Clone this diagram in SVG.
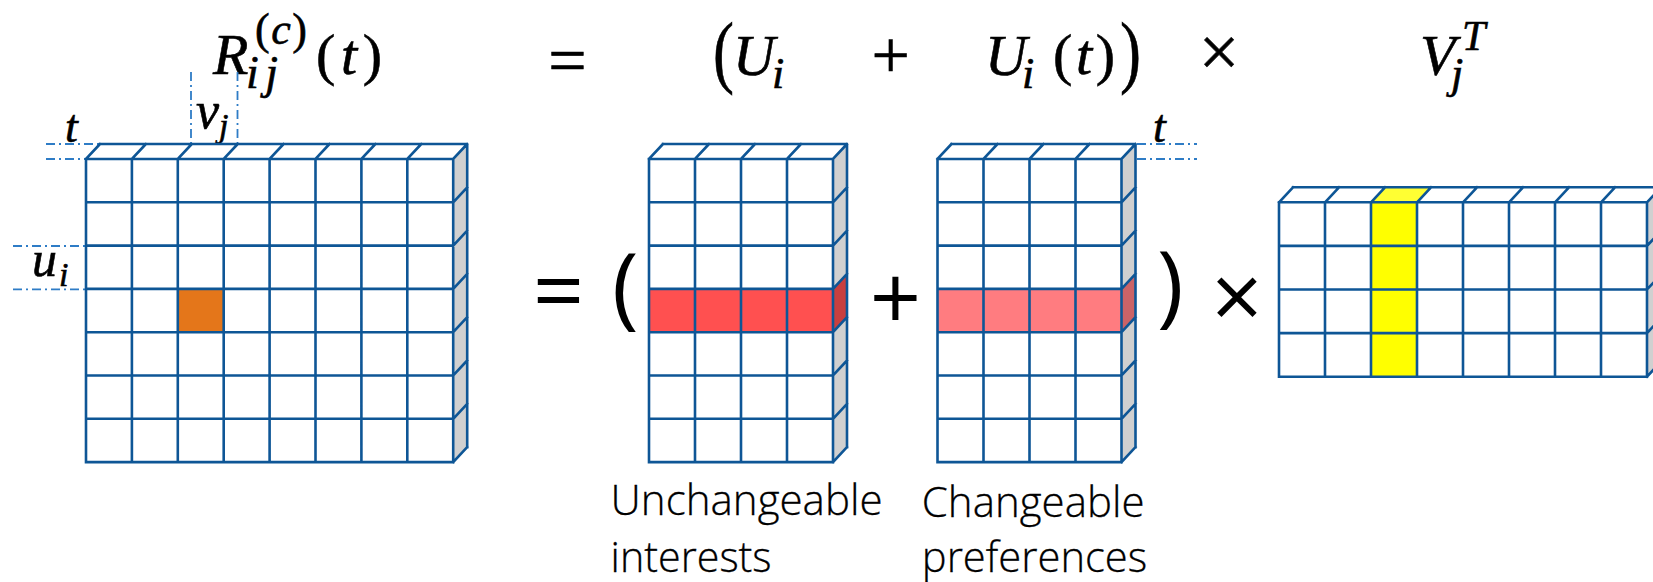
<svg xmlns="http://www.w3.org/2000/svg" width="1653" height="582" viewBox="0 0 1653 582">
<style>
.g{fill:none;stroke:#0E5696;stroke-width:2.6;stroke-linejoin:round;stroke-linecap:square}
.w{fill:#fff}
.side{fill:#d0d0d0}
.m{font-family:"Liberation Serif","DejaVu Serif",serif;fill:#000;stroke:#000;stroke-width:0.6}
.i{font-style:italic}
.op{font-family:"Open Sans","Liberation Sans",sans-serif;font-size:90px;fill:#000}
.lb{font-family:"Open Sans","Liberation Sans",sans-serif;font-size:42px;font-weight:300;fill:#000;stroke:#000;stroke-width:0.3}
.d{fill:none;stroke:#2E7CC6;stroke-width:1.8;stroke-dasharray:9 4 2 4}
</style>
<rect width="1653" height="582" fill="#fff"/>

<g id="formula">
  <text class="m"><tspan class="i" x="213" y="74" font-size="58">R</tspan><tspan class="i" x="246" y="88" font-size="46" textLength="32">ij</tspan><tspan x="255" y="44" font-size="44" textLength="52">(<tspan class="i">c</tspan>)</tspan><tspan x="316" y="74" font-size="58" textLength="66">(<tspan class="i">t</tspan>)</tspan></text>
  <text class="m" x="567.5" y="83" font-size="68" text-anchor="middle">=</text>
  <text class="m"><tspan x="713" y="78" font-size="80" textLength="21" lengthAdjust="spacingAndGlyphs">(</tspan><tspan class="i" x="733" y="75" font-size="58">U</tspan><tspan class="i" x="772" y="88" font-size="44">i</tspan></text>
  <text class="m" x="890.8" y="78" font-size="68" text-anchor="middle">+</text>
  <text class="m"><tspan class="i" x="985" y="75" font-size="58">U</tspan><tspan class="i" x="1022" y="88" font-size="44">i</tspan><tspan x="1053" y="74" font-size="58" textLength="62">(<tspan class="i">t</tspan>)</tspan><tspan x="1120" y="78" font-size="80" textLength="21" lengthAdjust="spacingAndGlyphs">)</tspan></text>
  <text class="m" x="1219" y="76" font-size="72" text-anchor="middle">×</text>
  <text class="m"><tspan class="i" x="1420" y="75" font-size="58">V</tspan><tspan class="i" x="1451" y="88" font-size="44">j</tspan><tspan class="i" x="1462" y="50" font-size="42">T</tspan></text>
</g>

<g id="guides">
  <path class="d" d="M46 144H100M46 159H86"/>
  <path class="d" d="M191 72V144M237.5 72V144"/>
  <path class="d" d="M13 246H86M13 289.3H86"/>
  <path class="d" d="M1137 144H1197M1137 159H1197"/>
  <text class="m i" x="65" y="142" font-size="46">t</text>
  <text class="m i" x="196" y="128" font-size="52">v</text>
  <text class="m i" x="219" y="137" font-size="34">j</text>
  <text class="m"><tspan class="i" x="32" y="276" font-size="50">u</tspan><tspan class="i" x="59" y="286" font-size="34">i</tspan></text>
  <text class="m i" x="1153" y="142" font-size="46">t</text>
</g>

<g id="matrix-R">
  <rect class="w" x="86" y="159" width="367.2" height="303.1"/>
  <polygon class="w" points="86,159 100,144 467.2,144 453.2,159"/>
  <polygon class="side" points="453.2,159 467.2,144 467.2,447.1 453.2,462.1"/>
  <rect x="177.8" y="288.9" width="45.9" height="43.3" fill="#E4761A"/>
  <path class="g" d="M86 159V462.1M131.9 159V462.1M177.8 159V462.1M223.7 159V462.1M269.6 159V462.1M315.5 159V462.1M361.4 159V462.1M407.3 159V462.1M453.2 159V462.1
  M86 159H453.2M86 202.3H453.2M86 245.6H453.2M86 288.9H453.2M86 332.2H453.2M86 375.5H453.2M86 418.8H453.2M86 462.1H453.2
  M86 159l14 -15M131.9 159l14 -15M177.8 159l14 -15M223.7 159l14 -15M269.6 159l14 -15M315.5 159l14 -15M361.4 159l14 -15M407.3 159l14 -15M453.2 159l14 -15
  M100 144H467.2V447.1
  M453.2 202.3l14 -15M453.2 245.6l14 -15M453.2 288.9l14 -15M453.2 332.2l14 -15M453.2 375.5l14 -15M453.2 418.8l14 -15M453.2 462.1l14 -15"/>
</g>

<g id="matrix-U">
  <rect class="w" x="649" y="159" width="184" height="303.1"/>
  <polygon class="w" points="649,159 663,144 847,144 833,159"/>
  <polygon class="side" points="833,159 847,144 847,447.1 833,462.1"/>
  <rect x="649" y="288.9" width="184" height="43.3" fill="#FF5050"/>
  <polygon points="833,288.9 847,273.9 847,317.2 833,332.2" fill="#C93F3F"/>
  <path class="g" d="M649 159V462.1M695 159V462.1M741 159V462.1M787 159V462.1M833 159V462.1
  M649 159H833M649 202.3H833M649 245.6H833M649 288.9H833M649 332.2H833M649 375.5H833M649 418.8H833M649 462.1H833
  M649 159l14 -15M695 159l14 -15M741 159l14 -15M787 159l14 -15M833 159l14 -15
  M663 144H847V447.1
  M833 202.3l14 -15M833 245.6l14 -15M833 288.9l14 -15M833 332.2l14 -15M833 375.5l14 -15M833 418.8l14 -15M833 462.1l14 -15"/>
  <text class="lb" x="610.6" y="515" textLength="272" lengthAdjust="spacingAndGlyphs">Unchangeable</text>
  <text class="lb" x="610.6" y="571.7" textLength="161" lengthAdjust="spacingAndGlyphs">interests</text>
</g>

<g id="matrix-Ut">
  <rect class="w" x="937.5" y="159" width="184" height="303.1"/>
  <polygon class="w" points="937.5,159 951.5,144 1135.5,144 1121.5,159"/>
  <polygon class="side" points="1121.5,159 1135.5,144 1135.5,447.1 1121.5,462.1"/>
  <rect x="937.5" y="288.9" width="184" height="43.3" fill="#FF7C80"/>
  <polygon points="1121.5,288.9 1135.5,273.9 1135.5,317.2 1121.5,332.2" fill="#CB6367"/>
  <path class="g" d="M937.5 159V462.1M983.5 159V462.1M1029.5 159V462.1M1075.5 159V462.1M1121.5 159V462.1
  M937.5 159H1121.5M937.5 202.3H1121.5M937.5 245.6H1121.5M937.5 288.9H1121.5M937.5 332.2H1121.5M937.5 375.5H1121.5M937.5 418.8H1121.5M937.5 462.1H1121.5
  M937.5 159l14 -15M983.5 159l14 -15M1029.5 159l14 -15M1075.5 159l14 -15M1121.5 159l14 -15
  M951.5 144H1135.5V447.1
  M1121.5 202.3l14 -15M1121.5 245.6l14 -15M1121.5 288.9l14 -15M1121.5 332.2l14 -15M1121.5 375.5l14 -15M1121.5 418.8l14 -15M1121.5 462.1l14 -15"/>
  <text class="lb" x="921.8" y="516.7" textLength="222.7" lengthAdjust="spacingAndGlyphs">Changeable</text>
  <text class="lb" x="921.8" y="571.7" textLength="225.4" lengthAdjust="spacingAndGlyphs">preferences</text>
</g>

<g id="matrix-V">
  <rect class="w" x="1279" y="202.3" width="368" height="174.4"/>
  <polygon class="w" points="1279,202.3 1293,187.3 1661,187.3 1647,202.3"/>
  <polygon class="side" points="1647,202.3 1661,187.3 1661,361.7 1647,376.7"/>
  <rect x="1371" y="202.3" width="46" height="174.4" fill="#FFFF00"/>
  <polygon points="1371,202.3 1385,187.3 1431,187.3 1417,202.3" fill="#FFFF33"/>
  <path class="g" d="M1279 202.3V376.7M1325 202.3V376.7M1371 202.3V376.7M1417 202.3V376.7M1463 202.3V376.7M1509 202.3V376.7M1555 202.3V376.7M1601 202.3V376.7M1647 202.3V376.7
  M1279 202.3H1647M1279 245.9H1647M1279 289.5H1647M1279 333.1H1647M1279 376.7H1647
  M1279 202.3l14 -15M1325 202.3l14 -15M1371 202.3l14 -15M1417 202.3l14 -15M1463 202.3l14 -15M1509 202.3l14 -15M1555 202.3l14 -15M1601 202.3l14 -15M1647 202.3l14 -15
  M1293 187.3H1661V361.7
  M1647 245.9l14 -15M1647 289.5l14 -15M1647 333.1l14 -15M1647 376.7l14 -15"/>
</g>

<g id="operators">
  <text class="op" x="558.5" y="323" text-anchor="middle">=</text>
  <text class="op" x="612" y="318">(</text>
  <text class="op" x="895.5" y="330" text-anchor="middle">+</text>
  <text class="op" x="1157" y="316">)</text>
  <text class="op" x="1237" y="329" text-anchor="middle">×</text>
</g>
</svg>
